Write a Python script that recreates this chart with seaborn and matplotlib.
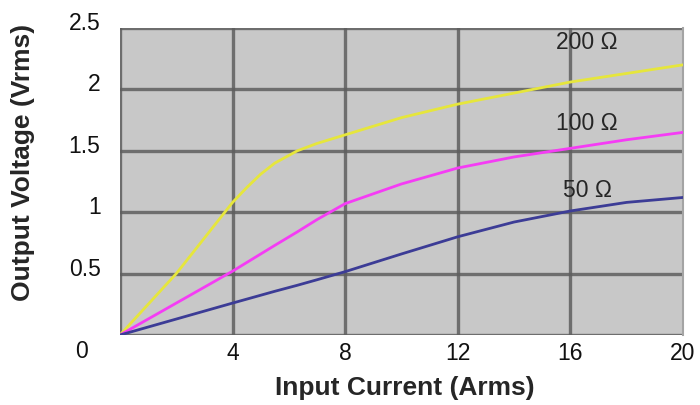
import matplotlib
matplotlib.use('Agg')
import matplotlib.pyplot as plt
import matplotlib.transforms as mtransforms
import pandas as pd
import seaborn as sns

# values
current = [0, 2, 4, 4.5, 5, 5.5, 6.3, 7, 8, 10, 12, 14, 16, 18, 20]
v_200 = [0, 0.50, 1.08, 1.20, 1.31, 1.40, 1.50, 1.56, 1.63, 1.77, 1.88, 1.97, 2.06, 2.13, 2.20]
v_100 = [0, 0.26, 0.52, 0.59, 0.66, 0.73, 0.84, 0.94, 1.07, 1.23, 1.36, 1.45, 1.52, 1.59, 1.65]
v_50 = [0, 0.13, 0.26, 0.292, 0.324, 0.356, 0.405, 0.45, 0.516, 0.66, 0.80, 0.92, 1.01, 1.08, 1.12]
series = ['200 Ω', '100 Ω', '50 Ω']
colors = ['#e6e63c', '#f53cf5', '#3c3c96']
label_x = 16.6
label_y = [2.38, 1.72, 1.18]
x_ticks = [4, 8, 12, 16, 20]
y_ticks = [0.5, 1, 1.5, 2, 2.5]

sns.set_style('white')
plt.rcParams['font.family'] = ['Liberation Sans', 'DejaVu Sans']

df = pd.DataFrame({
    'current': current * 3,
    'voltage': v_200 + v_100 + v_50,
    'load': [s for s in series for _ in current],
})

fig = plt.figure(figsize=(7, 4.05), dpi=100)
ax = fig.add_axes([0.1714, 0.1728, 0.8043, 0.7581])
ax.set_facecolor('#c8c8c8')

sns.lineplot(data=df, x='current', y='voltage', hue='load', palette=colors,
             hue_order=series, linewidth=2, legend=False, ax=ax, zorder=3)

ax.set_xlim(0, 20)
ax.set_ylim(0, 2.5)
ax.set_xticks([0] + x_ticks)
ax.set_yticks([0] + y_ticks)
ax.set_xticklabels([''] + [str(t) for t in x_ticks])
ax.set_yticklabels([''] + ['%g' % t for t in y_ticks])
ax.grid(True, color='#5e5e5e', linewidth=2.4, alpha=0.85)
ax.set_axisbelow(True)
# the right edge is a pale border, not a dark grid line
ax.xaxis.get_gridlines()[-1].set_visible(False)
for name, s in ax.spines.items():
    s.set_visible(name == 'right')
ax.spines['right'].set_color('#a4a4a4')
ax.spines['right'].set_linewidth(1.5)
ax.tick_params(axis='both', length=0, labelsize=16.5, colors='#111111')
ax.tick_params(axis='x', pad=5)
ax.tick_params(axis='y', pad=14)
offset = mtransforms.ScaledTranslation(0, 5 / 72, fig.dpi_scale_trans)
for lbl in ax.get_yticklabels():
    lbl.set_transform(lbl.get_transform() + offset)

# lone zero label at the lower-left corner
ax.text(-0.069, -0.055, '0', transform=ax.transAxes, fontsize=16.5,
        ha='center', va='center', color='#111111')

for name, y in zip(series, label_y):
    ax.text(label_x, y, name, fontsize=16.5, ha='center', va='center')

ax.set_xlabel('Input Current (Arms)', fontsize=19, fontweight='bold')
ax.set_ylabel('Output Voltage (Vrms)', fontsize=19, fontweight='bold')
ax.xaxis.label.set_va('center')
ax.yaxis.label.set_va('center')
ax.xaxis.set_label_coords(0.506, -0.173)
ax.yaxis.set_label_coords(-0.172, 0.563)

fig.savefig('out.png', dpi=100)
